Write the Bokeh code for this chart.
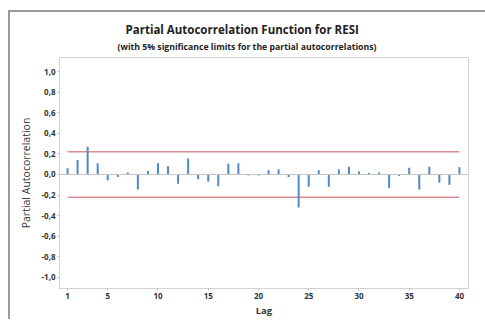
from bokeh.plotting import figure
from bokeh.models import Range1d, FixedTicker, Span, Title
from bokeh.embed import file_html
from bokeh.resources import INLINE

lags = list(range(1, 41))
pacf = [0.06, 0.14, 0.27, 0.11, -0.055, -0.025, 0.02, -0.145, 0.035, 0.11,
        0.08, -0.09, 0.155, -0.045, -0.07, -0.115, 0.105, 0.11, -0.01, -0.01,
        0.04, 0.05, -0.025, -0.32, -0.12, 0.04, -0.12, 0.05, 0.075, 0.03,
        0.015, 0.02, -0.13, -0.015, 0.065, -0.145, 0.075, -0.08, -0.10, 0.07]
sig_limit = 0.22
x_ticks = [1, 5, 10, 15, 20, 25, 30, 35, 40]
y_ticks = [-1.0, -0.8, -0.6, -0.4, -0.2, 0.0, 0.2, 0.4, 0.6, 0.8, 1.0]
y_tick_labels = ["-1,0", "-0,8", "-0,6", "-0,4", "-0,2", "0,0", "0,2", "0,4", "0,6", "0,8", "1,0"]
title_text = "Partial Autocorrelation Function for RESI"
subtitle_text = "(with 5% significance limits for the partial autocorrelations)"

FONT = "Open Sans"

p = figure(frame_width=409, frame_height=231, output_backend="svg", toolbar_location=None,
           x_range=Range1d(0.2, 40.9), y_range=Range1d(-1.107, 1.136),
           min_border_left=49, min_border_right=17, min_border_top=0, min_border_bottom=31)
p.styles = {"border-left": "2px solid #9a9a9a", "border-top": "2px solid #9a9a9a",
            "margin-left": "8px", "margin-top": "10px"}

p.background_fill_color = "white"
p.border_fill_color = "white"
p.outline_line_color = "#d2d2d2"
p.outline_line_width = 1
p.xgrid.visible = False
p.ygrid.visible = False

sub = Title(text=subtitle_text, text_font=FONT, text_font_size="8.7px", text_font_style="bold",
            text_color="#222222", align="left", offset=58, standoff=9)
ttl = Title(text=title_text, text_font=FONT, text_font_size="11.5px", text_font_style="bold",
            text_color="#222222", align="left", offset=66, standoff=-5)
spacer = Title(text=" ", text_font=FONT, text_font_size="5px", standoff=2)
p.add_layout(sub, "above")
p.add_layout(ttl, "above")
p.add_layout(spacer, "above")

zero = Span(location=0, dimension="width", line_color="#c4c4c4", line_width=1)
p.add_layout(zero)

p.line(x=[lags[0], lags[-1]], y=[sig_limit, sig_limit], line_color="#d69090", line_width=1.5)
p.line(x=[lags[0], lags[-1]], y=[-sig_limit, -sig_limit], line_color="#d69090", line_width=1.5)

p.segment(x0=lags, y0=[0] * len(lags), x1=lags, y1=pacf, line_color="#5088c8", line_width=2)

for ax in (p.xaxis[0], p.yaxis[0]):
    ax.axis_line_color = "#d2d2d2"
    ax.major_tick_line_color = "#bfbfbf"
    ax.minor_tick_line_color = None
    ax.major_tick_in = 0
    ax.major_tick_out = 2
    ax.major_label_text_font = FONT
    ax.major_label_text_font_size = "8px"
    ax.major_label_text_font_style = "bold"
    ax.major_label_text_color = "#333333"
    ax.major_label_standoff = 2

p.xaxis.ticker = FixedTicker(ticks=x_ticks)
p.yaxis.ticker = FixedTicker(ticks=y_ticks)
p.yaxis.major_label_overrides = {t: l for t, l in zip(y_ticks, y_tick_labels)}

p.xaxis.axis_label = "Lag"
p.xaxis.axis_label_text_font = FONT
p.xaxis.axis_label_text_font_size = "9.5px"
p.xaxis.axis_label_text_font_style = "bold"
p.xaxis.axis_label_text_color = "#333333"
p.xaxis.axis_label_standoff = 2

p.yaxis.axis_label = "Partial Autocorrelation"
p.yaxis.axis_label_text_font = FONT
p.yaxis.axis_label_text_font_size = "10.5px"
p.yaxis.axis_label_text_font_style = "normal"
p.yaxis.axis_label_text_color = "#333333"
p.yaxis.axis_label_standoff = 5

open("out.html", "w").write(file_html(p, INLINE))
